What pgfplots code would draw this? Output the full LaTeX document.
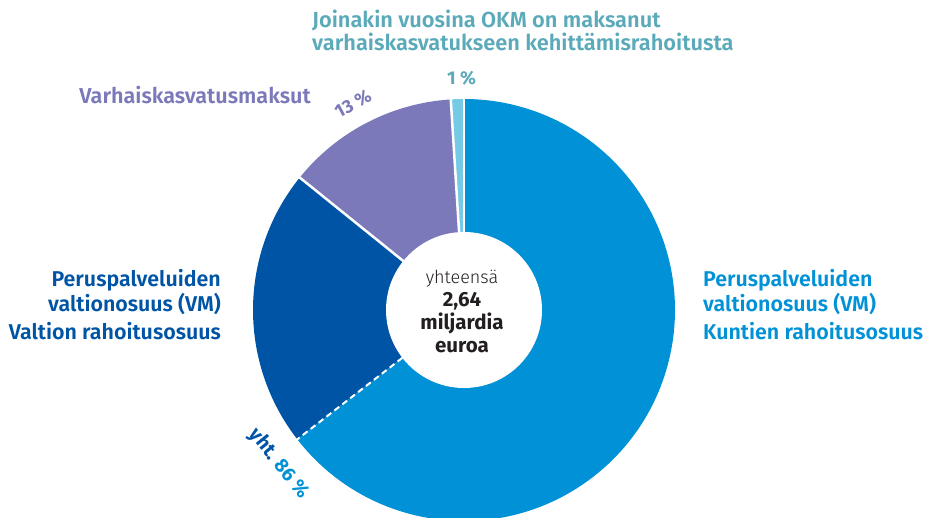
\documentclass[border=0pt]{standalone}
\usepackage{pgfplots}
\pgfplotsset{compat=1.18}
\usepackage{pgfplotstable}
\usepackage{fontspec}
\setmainfont{Fira Sans}[BoldFont={Fira Sans SemiBold}]
\newfontfamily\heavy{Fira Sans Bold}
\newfontfamily\light{Fira Sans Light}
\definecolor{lblue}{HTML}{0091D6}
\definecolor{dblue}{HTML}{0054A5}
\definecolor{purp}{HTML}{7B79B9}
\definecolor{okmc}{HTML}{75CBE6}
\definecolor{teal}{HTML}{5BAABA}
\definecolor{ctext}{HTML}{231F20}

% shares of the donut, counter-clockwise from the top (percent)
\pgfplotstableread{
share
1.0
13.2
21.3
64.5
}\shares

\begin{document}
\begin{tikzpicture}
\begin{axis}[name=ax, x=1pt, y=1pt, xmin=0, xmax=926, ymin=0, ymax=517,
  hide axis, clip=true]
\pgfplotsextra{%
  \pgfplotstablegetelem{0}{share}\of\shares \let\sA\pgfplotsretval
  \pgfplotstablegetelem{1}{share}\of\shares \let\sB\pgfplotsretval
  \pgfplotstablegetelem{2}{share}\of\shares \let\sC\pgfplotsretval
  \pgfplotstablegetelem{3}{share}\of\shares \let\sD\pgfplotsretval
  \pgfmathsetmacro\aO{90}
  \pgfmathsetmacro\aA{\aO+3.6*\sA}
  \pgfmathsetmacro\aB{\aA+3.6*\sB}
  \pgfmathsetmacro\aC{\aB+3.6*\sC}
  \pgfmathsetmacro\aD{\aC+3.6*\sD}
  \fill[okmc] (axis cs:464,207) -- ++(\aO:211pt) arc[start angle=\aO, end angle=\aA, radius=211pt] -- cycle;
  \fill[purp] (axis cs:464,207) -- ++(\aA:211pt) arc[start angle=\aA, end angle=\aB, radius=211pt] -- cycle;
  \fill[dblue] (axis cs:464,207) -- ++(\aB:211pt) arc[start angle=\aB, end angle=\aC, radius=211pt] -- cycle;
  \fill[lblue] (axis cs:464,207) -- ++(\aC:211pt) arc[start angle=\aC, end angle=\aD, radius=211pt] -- cycle;
  \draw[white, line width=2.5pt] (axis cs:464,207) -- ++(\aO:212pt);
  \draw[white, line width=2.5pt] (axis cs:464,207) -- ++(\aA:212pt);
  \draw[white, line width=2.5pt] (axis cs:464,207) -- ++(\aB:212pt);
  \draw[white, line width=2pt, dash pattern=on 6pt off 4pt] (axis cs:464,207) ++(\aC:78pt) -- ++(\aC:134pt);
  \fill[white] (axis cs:464,207) circle[radius=78pt];
}
% texts
\node[anchor=base west, text=teal, font=\bfseries\fontsize{21.8}{24}\selectfont, inner sep=0pt] at (axis cs:312,489) {Joinakin vuosina OKM on maksanut};
\node[anchor=base west, text=teal, font=\bfseries\fontsize{21.8}{24}\selectfont, inner sep=0pt] at (axis cs:312,466) {varhaiskasvatukseen kehittämisrahoitusta};
\node[anchor=base west, text=teal, font=\heavy\fontsize{18.5}{22}\selectfont, inner sep=0pt] at (axis cs:447,432) {1 \%};
\node[anchor=base east, text=purp, font=\bfseries\fontsize{21.6}{24}\selectfont, inner sep=0pt] at (axis cs:311,413) {Varhaiskasvatusmaksut};
\node[text=purp, font=\heavy\fontsize{18.5}{22}\selectfont, inner sep=0pt, rotate=28] at (axis cs:353,413) {13 \%};
\node[anchor=base east, text=dblue, font=\bfseries\fontsize{21.4}{24}\selectfont, inner sep=0pt] at (axis cs:221,230) {Peruspalveluiden};
\node[anchor=base east, text=dblue, font=\bfseries\fontsize{21.4}{24}\selectfont, inner sep=0pt] at (axis cs:221,205) {valtionosuus (VM)};
\node[anchor=base east, text=dblue, font=\bfseries\fontsize{21.4}{24}\selectfont, inner sep=0pt] at (axis cs:221,177) {Valtion rahoitusosuus};
\node[anchor=base west, text=lblue, font=\bfseries\fontsize{21.4}{24}\selectfont, inner sep=0pt] at (axis cs:703,230) {Peruspalveluiden};
\node[anchor=base west, text=lblue, font=\bfseries\fontsize{21.4}{24}\selectfont, inner sep=0pt] at (axis cs:703,205) {valtionosuus (VM)};
\node[anchor=base west, text=lblue, font=\bfseries\fontsize{21.4}{24}\selectfont, inner sep=0pt] at (axis cs:703,177) {Kuntien rahoitusosuus};
\node[anchor=base, text=ctext, font=\light\fontsize{18}{20}\selectfont, inner sep=0pt] at (axis cs:462,233) {yhteensä};
\node[anchor=base, text=ctext, font=\heavy\fontsize{20.5}{20}\selectfont, inner sep=0pt] at (axis cs:462,210) {2,64};
\node[anchor=base, text=ctext, font=\heavy\fontsize{20.5}{20}\selectfont, inner sep=0pt] at (axis cs:462,187) {miljardia};
\node[anchor=base, text=ctext, font=\heavy\fontsize{20.5}{20}\selectfont, inner sep=0pt] at (axis cs:462,164) {euroa};
\node[font=\heavy\fontsize{19.5}{22}\selectfont, inner sep=0pt, rotate=-51] at (axis cs:279,53) {\textcolor{dblue}{yht.} \textcolor{lblue}{86 \%}};
\end{axis}
\pgfresetboundingbox
\useasboundingbox (ax.south west) rectangle (ax.north east);
\end{tikzpicture}
\end{document}
